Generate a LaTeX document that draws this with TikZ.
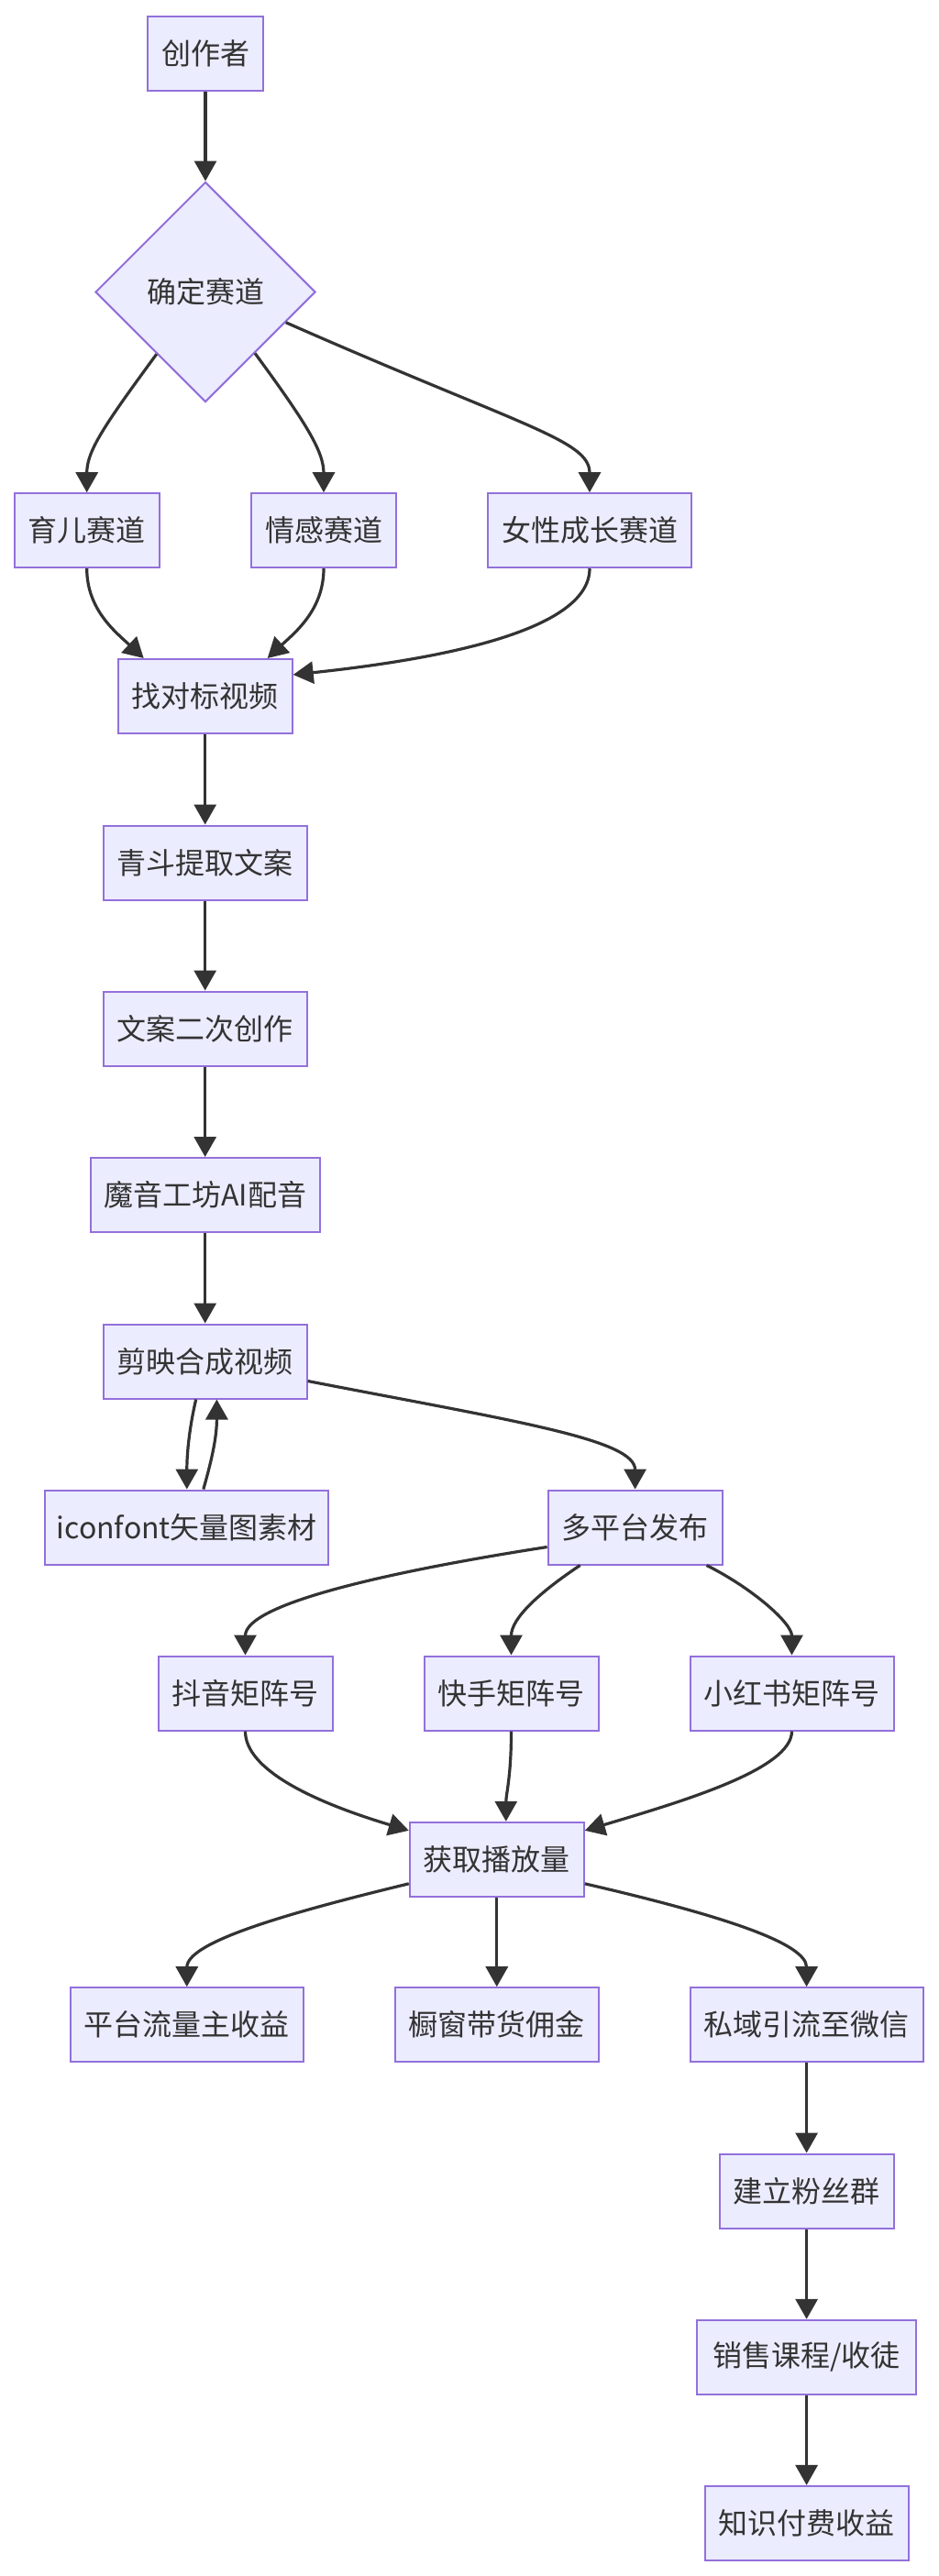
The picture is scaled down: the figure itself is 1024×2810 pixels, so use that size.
\documentclass[tikz,border=0pt]{standalone}
\usepackage{fontspec}
\setmainfont{Noto Sans CJK SC}
\usetikzlibrary{arrows.meta,shapes.geometric,calc}
\definecolor{nodefill}{HTML}{ECECFF}
\definecolor{nodeline}{HTML}{9370DB}
\definecolor{edgecol}{HTML}{333333}
\begin{document}
\begin{tikzpicture}[x=1pt,y=-1pt,
  box/.style={draw=nodeline, fill=nodefill, line width=2pt, text=edgecol,
    font=\fontsize{32}{38}\selectfont, minimum height=81pt, inner sep=0pt, align=center},
  dia/.style={box, shape=diamond, aspect=1, minimum width=240pt, minimum height=240pt},
  edge/.style={draw=edgecol, line width=3.2pt, -{Triangle[length=22pt,width=24pt]}}]
\useasboundingbox[fill=white] (0,0) rectangle (1024,2810);

\node[box, minimum width=126pt] (c0) at (224,58.5) {创作者};
\node[dia] (d) at (224,318.5) {确定赛道};
\node[box, minimum width=158pt] (r1) at (94.7,578.7) {育儿赛道};
\node[box, minimum width=158pt] (r2) at (353,578.7) {情感赛道};
\node[box, minimum width=222pt] (r3) at (643,578.7) {女性成长赛道};
\node[box, minimum width=190pt] (f) at (223.7,759.5) {找对标视频};
\node[box, minimum width=222pt] (q) at (223.7,941) {青斗提取文案};
\node[box, minimum width=222pt] (w) at (223.7,1122) {文案二次创作};
\node[box, minimum width=250pt] (m) at (223.7,1303.5) {魔音工坊AI配音};
\node[box, minimum width=222pt] (j) at (223.7,1485) {剪映合成视频};
\node[box, minimum width=309pt] (ic) at (203.8,1666) {iconfont矢量图素材};
\node[box, minimum width=190pt] (p) at (692.6,1666) {多平台发布};
\node[box, minimum width=190pt] (dy) at (267.5,1847) {抖音矩阵号};
\node[box, minimum width=190pt] (ks) at (557.5,1847) {快手矩阵号};
\node[box, minimum width=222pt] (xhs) at (863.5,1847) {小红书矩阵号};
\node[box, minimum width=190pt] (g) at (541.8,2028.3) {获取播放量};
\node[box, minimum width=254pt] (e1) at (203.8,2208.7) {平台流量主收益};
\node[box, minimum width=222pt] (e2) at (541.8,2208.7) {橱窗带货佣金};
\node[box, minimum width=254pt] (e3) at (879.6,2208.7) {私域引流至微信};
\node[box, minimum width=190pt] (fan) at (879.6,2390) {建立粉丝群};
\node[box, minimum width=239pt] (sell) at (879.6,2571.3) {销售课程/收徒};
\node[box, minimum width=222pt] (k) at (879.6,2752.4) {知识付费收益};

\draw[edge] (c0.south) -- (d.north);
\draw[edge] ($(d.west)!0.56!(d.south)$) .. controls +(-58,79) and +(0,-45) .. (r1.north);
\draw[edge] ($(d.east)!0.553!(d.south)$) .. controls +(55,75) and +(0,-45) .. (r2.north);
\draw[edge] ($(d.east)!0.275!(d.south)$) .. controls (571,466) and (643,480) .. (r3.north);

\draw[edge] (r1.south) .. controls +(0,45) and +(-30,-28) .. ([xshift=-67pt]f.north);
\draw[edge] (r2.south) .. controls +(0,45) and +(30,-28) .. ([xshift=68pt]f.north);
\draw[edge] (r3.south) .. controls (643,690) and (470,720) .. ([yshift=-18pt]f.north east);

\draw[edge] (f.south) -- (q.north);
\draw[edge] (q.south) -- (w.north);
\draw[edge] (w.south) -- (m.north);
\draw[edge] (m.south) -- (j.north);

\draw[edge] ([xshift=-10pt]j.south) .. controls +(-7,30) and +(0,-40) .. (ic.north);
\draw[edge] ([xshift=18pt]ic.north) .. controls +(10,-35) and +(0,40) .. ([xshift=12.7pt]j.south);
\draw[edge] ([yshift=20pt]j.south east) .. controls (560,1550) and (692.6,1570) .. (p.north);

\draw[edge] ([yshift=20pt]p.south west) .. controls (420,1715) and (267.5,1750) .. (dy.north);
\draw[edge] ([xshift=-60pt]p.south) .. controls +(-45,30) and +(0,-40) .. (ks.north);
\draw[edge] ([xshift=-18pt]p.south east) .. controls +(50,25) and +(0,-35) .. (xhs.north);

\draw[edge] (dy.south) .. controls (267.5,1930) and (340,1965) .. ([yshift=-10pt]g.north west);
\draw[edge] (ks.south) .. controls +(0,50) and +(0,-30) .. ([xshift=10pt]g.north);
\draw[edge] (xhs.south) .. controls (863.5,1930) and (744,1965) .. ([yshift=-10pt]g.north east);

\draw[edge] ([yshift=15pt]g.south west) .. controls (300,2090) and (203.8,2120) .. (e1.north);
\draw[edge] (g.south) -- (e2.north);
\draw[edge] ([yshift=15pt]g.south east) .. controls (790,2090) and (879.6,2120) .. (e3.north);

\draw[edge] (e3.south) -- (fan.north);
\draw[edge] (fan.south) -- (sell.north);
\draw[edge] (sell.south) -- (k.north);
\end{tikzpicture}
\end{document}
